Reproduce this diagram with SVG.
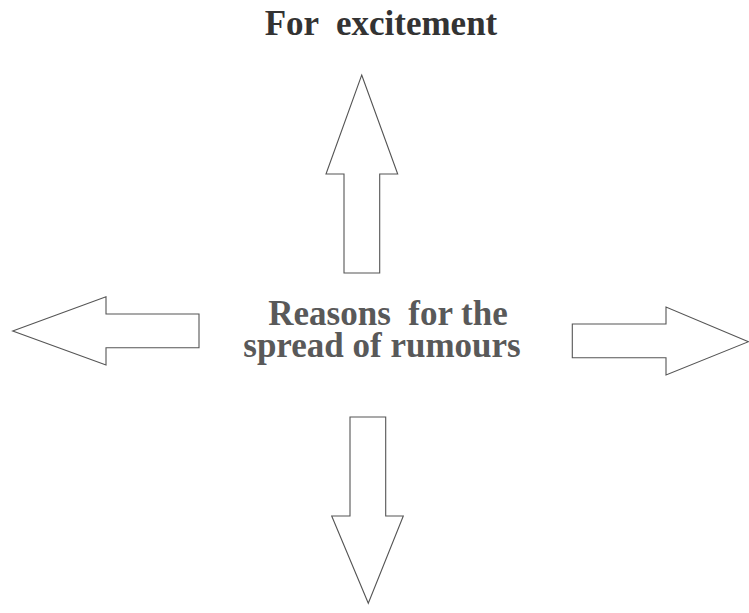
<svg xmlns="http://www.w3.org/2000/svg" width="749" height="613" viewBox="0 0 749 613">
<style>
.bg{fill:#ffffff}
.arrow{fill:#ffffff;stroke:#555555;stroke-width:1.1;stroke-linejoin:miter}
.t{font-family:"Liberation Serif","Times New Roman",serif;font-weight:bold;font-size:35px;text-anchor:middle;white-space:pre}
.top{fill:#333333}
.mid{fill:#595959}
</style>
<rect class="bg" x="0" y="0" width="749" height="613"/>
<g id="title">
<text class="t top" x="381" y="35" xml:space="preserve">For  excitement</text>
</g>
<g id="center">
<text class="t mid" x="388" y="325" xml:space="preserve">Reasons  for the</text>
<text class="t mid" x="382" y="357">spread of rumours</text>
</g>
<g id="connectors">
<polygon id="arrow-up" class="arrow" points="361.7,75 397.7,174 379.7,174 379.7,273 344,273 344,174 326,174"/>
<polygon id="arrow-left" class="arrow" points="12.7,331 106,296.7 106,314 199,314 199,347.7 106,347.7 106,365"/>
<polygon id="arrow-right" class="arrow" points="748.5,341.7 666,307 666,324 572.3,324 572.3,357.7 666,357.7 666,375"/>
<polygon id="arrow-down" class="arrow" points="368.3,603.3 331.7,516 350,516 350,417 385.7,417 385.7,516 403.3,516"/>
</g>
</svg>
